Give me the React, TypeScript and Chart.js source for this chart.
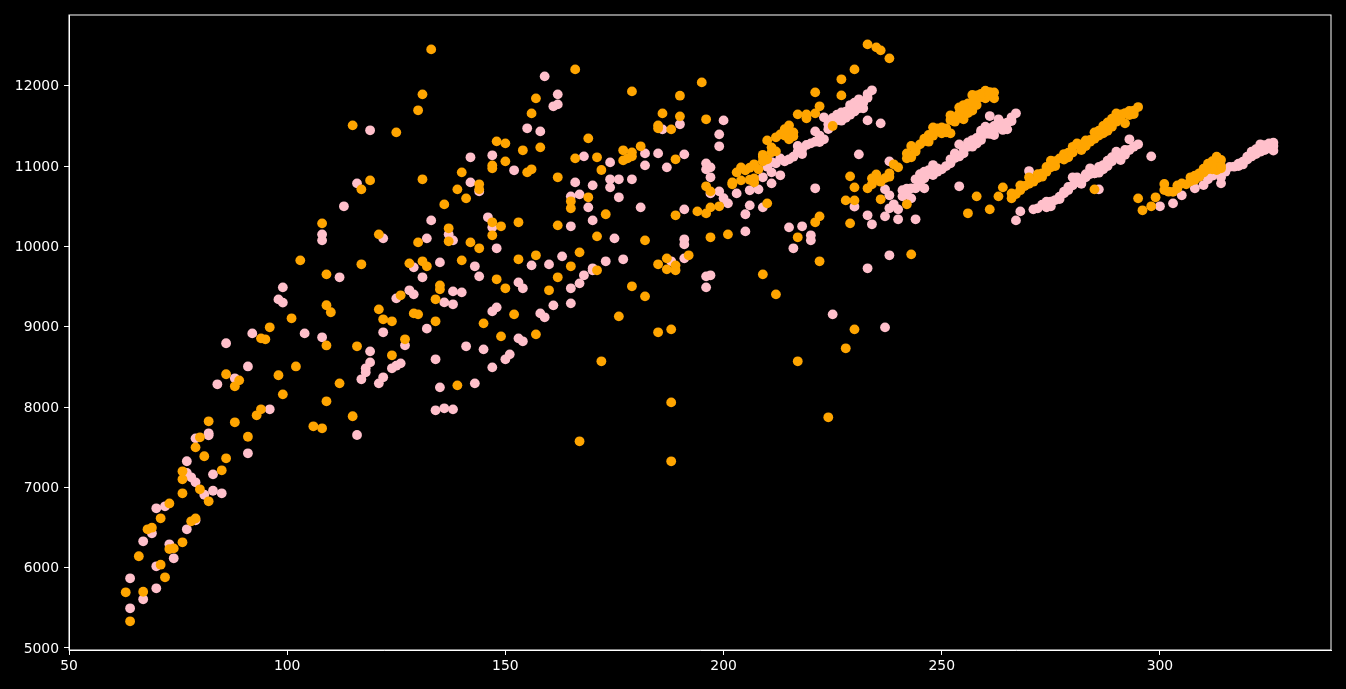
import React, { useEffect, useRef } from "react";
import { Chart, registerables } from "chart.js";

Chart.register(...registerables);

const xTicks = [50, 100, 150, 200, 250, 300];
const yTicks = [5000, 6000, 7000, 8000, 9000, 10000, 11000, 12000];

const orangeLeft: number[][] = [
  [64,5332],[63,5693],[67,5700],[72,5880],[71,6037],[66,6142],[76,6316],[73,6232],[74,6240],[78,6577],[79,6613],[68,6478],[69,6498],[71,6615],[73,6800],[76,6926],[76,7100],[76,7200],[82,6826],[80,6976],[81,7387],[79,7498],[80,7623],[82,7822],[85,7212],[86,7362],[88,7810],[91,7630],[93,7897],[94,7972],[86,8408],[88,8258],[89,8332],[99,8158],[98,8396],[102,8505],[94,8855],[95,8843],[96,8993],[101,9105],[109,9267],[110,9180],[109,8767],[109,8071],[106,7760],[108,7735],[112,8295],[115,7885],[116,8756],[109,9652],
];
const orangeMiddle: number[][] = [
  [133,12453],[131,11893],[130,11694],[115,11507],[125,11420],[131,10835],[119,10822],[117,10710],[108,10287],[121,10150],[103,9826],[117,9777],[130,10050],[128,9789],[131,9814],[132,9752],[137,10225],[137,10063],[140,10922],[139,10710],[141,10598],[136,10523],[144,10773],[144,10710],[147,11009],[147,10972],[148,11308],[150,11283],[150,11059],[154,11196],[155,10922],[156,10960],[156,11656],[157,11843],[158,11233],[166,12204],[169,11345],[166,11096],[162,10860],[171,11109],[172,10951],[169,10611],[165,10561],[165,10474],[162,10262],[153,10300],[147,10300],[149,10250],[147,10138],[142,10050],[144,9976],[140,9826],[153,9839],[157,9889],[165,9752],[167,9926],[171,10125],
  [121,9216],[122,9092],[124,9067],[126,9391],[127,8843],[124,8644],[129,9166],[130,9154],[134,9341],[135,9515],[135,9465],[134,9067],[145,9042],[149,8880],[157,8905],[152,9154],[148,9590],[150,9478],[160,9453],[162,9615],[171,9702],[139,8270],[167,7573],[172,8569],
];
const orangeRight: number[][] = [
  [179,11930],[195,12042],[190,11876],[190,11619],[186,11656],[185,11507],[185,11470],[188,11457],[196,11582],[181,11246],[177,11196],[177,11071],[179,11171],[179,11121],[178,11096],[189,11084],[173,10400],[182,10075],[189,10387],[194,10436],[196,10411],[197,10486],[199,10499],[196,10748],[197,10685],[197,10113],[201,10150],
  [185,9777],[187,9851],[187,9714],[189,9764],[189,9702],[192,9889],[179,9503],[182,9378],[176,9129],[185,8930],[188,8967],[188,8058],[188,7324],[209,9652],[212,9403],[222,9814],[217,8569],[228,8731],[230,8967],[224,7872],[243,9901],
  [202,10797],[202,10773],[203,10922],[204,10984],[204,10822],[205,10947],[207,11022],[207,10847],[207,10797],[208,10960],[209,11117],[210,11320],[210,11084],[211,11233],[211,11171],[212,11358],[212,11183],[213,11395],[215,11507],[215,11408],[215,11333],[216,11420],[217,11644],[219,11644],[219,11594],[221,11656],[222,11744],[221,11918],[227,12080],[227,11880],[230,12204],[225,11499],[233,12515],[235,12478],[236,12441],[238,12341],[229,10872],[230,10735],[228,10573],[230,10573],[236,10586],[221,10300],[222,10374],[229,10287],[217,10113],[210,10536],
  [233,10723],[234,10773],[234,10847],[235,10847],[235,10897],[236,10806],[238,10910],[238,10868],[239,11022],[240,10984],[242,11096],[242,11158],[243,11250],[242,10524],[243,11109],[244,11208],
  [206,10830],[206,10980],[209,11060],[209,11140],[214,11380],[214,11460],[216,11370],[237,10850],
];
const orangeBands: number[][] = [
  [246,11312],[247,11304],[247,11387],[248,11482],[248,11378],[250,11482],[250,11408],[251,11420],[252,11408],[252,11632],[252,11573],[253,11553],[254,11731],[254,11656],[255,11582],[256,11781],[256,11719],[257,11690],[257,11885],[258,11843],[260,11939],[260,11843],[262,11918],[262,11843],[258,10623],[256,10412],[261,10461],[263,10623],[264,10735],
  [244,11180],[245,11270],[246,11340],[249,11440],[249,11470],[251,11470],[253,11610],[254,11600],[255,11700],[255,11760],[256,11660],[257,11790],[258,11760],[258,11880],[259,11860],[259,11900],[261,11880],[261,11920],
  [266,10598],[267,10652],[266,10660],[269,10752],[270,10860],[271,10806],[273,10910],[273,10868],[275,11067],[275,10984],[277,11096],[279,11167],[279,11109],[281,11283],[282,11200],[284,11304],[285,11420],[287,11407],[288,11544],[288,11440],[290,11656],[290,11553],[285,10710],[284,11325],[287,11449],[291,11644],[292,11532],[293,11686],[293,11636],[294,11648],[295,11735],
  [268,10700],[268,10760],[270,10780],[272,10850],[272,10900],[274,10930],[274,10990],[276,11000],[276,11060],[278,11080],[278,11150],[280,11170],[280,11240],[282,11270],[283,11250],[283,11320],[285,11340],[286,11380],[286,11440],[287,11500],[289,11490],[289,11590],[291,11590],[292,11660],[294,11690],
  [295,10598],[296,10449],[298,10499],[299,10611],[301,10777],[301,10702],[302,10681],[304,10723],[305,10785],[306,10773],[307,10860],[309,10868],[310,10968],[311,10984],[312,11013],[313,11117],[314,11076],[313,10951],[314,10972],
  [303,10680],[304,10760],[307,10810],[308,10830],[308,10880],[309,10910],[310,10920],[311,10960],[312,11060],[313,11050],[314,11000],[312,10960],[311,11030],
];

const pinkLeft: number[][] = [
  [64,5494],[67,5606],[70,5743],[64,5868],[70,6017],[74,6117],[73,6291],[67,6328],[77,6478],[69,6428],[79,6590],[70,6739],[72,6764],[83,6958],[85,6926],[81,6908],[79,7063],[78,7125],[77,7180],[83,7162],[77,7325],[91,7424],[82,7648],[82,7673],[79,7610],[96,7972],[84,8283],[88,8358],[91,8505],[86,8794],[92,8917],[104,8917],[108,8868],[98,9340],[99,9300],[116,7652],[117,8345],[112,9615],[99,9490],
];
const pinkMiddle: number[][] = [
  [159,12117],[162,11893],[162,11768],[161,11744],[119,11445],[155,11470],[158,11432],[142,11109],[147,11134],[152,10947],[168,11121],[166,10797],[170,10760],[142,10797],[144,10685],[116,10785],[113,10499],[167,10648],[165,10623],[169,10486],[146,10362],[147,10237],[133,10324],[170,10324],[165,10250],[108,10150],[108,10075],[122,10100],[132,10100],[137,10150],[138,10075],[148,9976],[129,9739],[135,9801],[143,9752],[156,9764],[160,9776],[163,9876],[170,9727],
  [119,8693],[119,8556],[118,8482],[118,8432],[122,8930],[121,8295],[122,8370],[124,8482],[125,8515],[126,8544],[127,8768],[132,8976],[131,9615],[144,9627],[125,9353],[128,9453],[129,9403],[138,9440],[140,9428],[136,9303],[138,9279],[134,8594],[135,8245],[143,8295],[141,8756],[145,8718],[147,8494],[147,9191],[148,9241],[153,9552],[154,9478],[158,9166],[159,9117],[153,8855],[154,8818],[150,8594],[151,8656],[134,7959],[136,7984],[138,7971],[161,9266],[165,9478],[165,9291],[167,9540],[168,9640],[170,9702],
];
const pinkRight: number[][] = [
  [173,9814],[177,9839],[188,9814],[191,9851],[196,9627],[197,9640],[196,9490],[216,9976],[233,9727],[238,9889],[225,9154],[237,8992],
  [200,11569],[199,11395],[199,11246],[182,11158],[182,11009],[185,11158],[191,11146],[187,10984],[174,11046],[174,10835],[176,10835],[179,10835],[174,10735],[176,10611],[181,10486],[191,10461],[175,10100],[191,10088],[191,10025],[186,11457],[190,11520],[196,11034],[196,10959],[197,10984],[197,10860],[197,10660],[199,10685],[200,10600],[201,10536],[203,10660],[205,10400],[206,10511],[205,10187],[209,10486],[206,10698],[208,10710],[211,10785],[211,10922],[213,10885],[209,10860],[221,10723],[215,10237],[218,10250],[220,10138],[220,10075],[233,11569],[236,11532],[231,11146],[223,11333],[233,10387],[234,10275],[237,10374],[240,10337],
  [212,11034],[213,11096],[215,11084],[216,11117],[217,11250],[217,11180],[219,11263],[220,11283],[221,11304],[221,11432],[223,11607],[224,11520],[225,11530],[226,11573],[227,11669],[227,11565],[228,11677],[229,11719],[229,11760],[231,11831],[231,11773],[232,11719],[233,11897],[234,11943],
  [237,10710],[238,10636],[238,11059],[230,10495],[241,10623],[238,10474],[239,10524],[240,10461],
  [210,10990],[211,11050],[214,11060],[218,11210],[218,11150],[222,11300],[222,11380],[224,11460],[225,11600],[226,11640],[228,11600],[229,11640],[230,11680],[230,11790],[232,11790],[233,11850],[231,11720],
];
const pinkBands: number[][] = [
  [243,10723],[243,10598],[244,10835],[244,10723],[246,10723],[246,10930],[246,10847],[248,11013],[248,10889],[250,10959],[252,11034],[252,11084],[253,11158],[254,11270],[255,11158],[256,11295],[257,11324],[257,11241],[259,11407],[259,11324],[260,11490],[261,11623],[261,11470],[262,11387],[263,11582],[264,11532],[265,11457],[266,11607],[267,11657],[254,10748],[244,10337],[270,10938],[268,10436],[267,10324],
  [241,10700],[242,10720],[242,10650],[245,10780],[245,10900],[247,10950],[247,10900],[249,10930],[249,10970],[251,11000],[253,11100],[254,11120],[255,11220],[256,11240],[258,11280],[258,11350],[259,11440],[260,11400],[261,11400],[262,11500],[262,11450],[263,11480],[264,11450],[265,11540],[266,11560],
  [271,10461],[272,10474],[274,10557],[274,10486],[276,10577],[278,10660],[279,10702],[280,10860],[281,10860],[282,10806],[284,10972],[285,10910],[287,11013],[288,11055],[290,11179],[286,10710],[275,10557],[278,10681],[281,10835],[285,10909],[286,10918],[288,11067],[291,11076],[292,11179],[293,11200],[293,11333],[295,11271],[298,11121],
  [273,10520],[275,10500],[277,10620],[277,10590],[279,10740],[280,10760],[281,10800],[282,10780],[283,10900],[283,10860],[284,10900],[286,10990],[287,10960],[288,11000],[289,11060],[289,11110],[290,11120],[291,11130],[292,11140],[292,11200],[294,11240],
  [300,10499],[303,10536],[305,10636],[308,10723],[310,10764],[311,10835],[314,10785],[313,10930],[315,10930],[317,10992],[318,11001],[319,11055],[320,11117],[321,11179],[323,11271],[323,11179],[325,11283],[326,11291],[326,11192],
  [312,10880],[314,10860],[316,10990],[318,11030],[319,11020],[320,11080],[321,11120],[322,11150],[322,11210],[324,11200],[324,11260],[325,11220],[326,11250],
];

const orangePoints = [...orangeLeft, ...orangeMiddle, ...orangeRight, ...orangeBands];
const pinkPoints = [...pinkLeft, ...pinkMiddle, ...pinkRight, ...pinkBands];

const toXY = (pts: number[][]) => pts.map(([x, y]) => ({ x, y }));

const frame = {
  id: "frame",
  afterDatasetsDraw(chart: any) {
    const { ctx, chartArea: a } = chart;
    ctx.save();
    ctx.strokeStyle = "#ffffff";
    ctx.lineWidth = 1;
    ctx.strokeRect(a.left, a.top, a.right - a.left, a.bottom - a.top);
    ctx.restore();
  },
};

export default function App() {
  const ref = useRef<HTMLCanvasElement>(null);
  useEffect(() => {
    const font = { family: "'DejaVu Sans'", size: 13.9 };
    const chart = new Chart(ref.current!, {
      type: "scatter",
      data: {
        datasets: [
          { data: toXY(orangePoints), backgroundColor: "#ffa500", borderWidth: 0, pointRadius: 4.9 },
          { data: toXY(pinkPoints), backgroundColor: "#ffc0cb", borderWidth: 0, pointRadius: 4.9 },
        ],
      },
      options: {
        animation: false,
        responsive: false,
        devicePixelRatio: 1,
        layout: { padding: { top: 15, right: 15, left: 0, bottom: 0 } },
        plugins: { legend: { display: false }, tooltip: { enabled: false } },
        scales: {
          x: {
            type: "linear",
            min: 50,
            max: 339.2,
            afterBuildTicks: (s: any) => { s.ticks = xTicks.map((value) => ({ value })); },
            afterFit: (s: any) => { s.height = 39; },
            grid: { drawOnChartArea: false, color: "#ffffff", tickLength: 5, tickColor: "#ffffff" },
            border: { color: "#ffffff" },
            ticks: { color: "#ffffff", font, maxRotation: 0, padding: 3, autoSkip: false },
          },
          y: {
            type: "linear",
            min: 4975,
            max: 12881,
            afterBuildTicks: (s: any) => { s.ticks = yTicks.map((value) => ({ value })); },
            afterFit: (s: any) => { s.width = 69; },
            grid: { drawOnChartArea: false, color: "#ffffff", tickLength: 5, tickColor: "#ffffff" },
            border: { color: "#ffffff" },
            ticks: { color: "#ffffff", font, padding: 5, labelOffset: 1, autoSkip: false, callback: (v: any) => String(v) },
          },
        },
      },
      plugins: [frame],
    } as any);
    return () => chart.destroy();
  }, []);
  return (
    <div style={{ position: "fixed", left: 0, top: 0, width: 1346, height: 689, background: "#000" }}>
      <canvas ref={ref} width={1346} height={689} style={{ display: "block" }} />
    </div>
  );
}
